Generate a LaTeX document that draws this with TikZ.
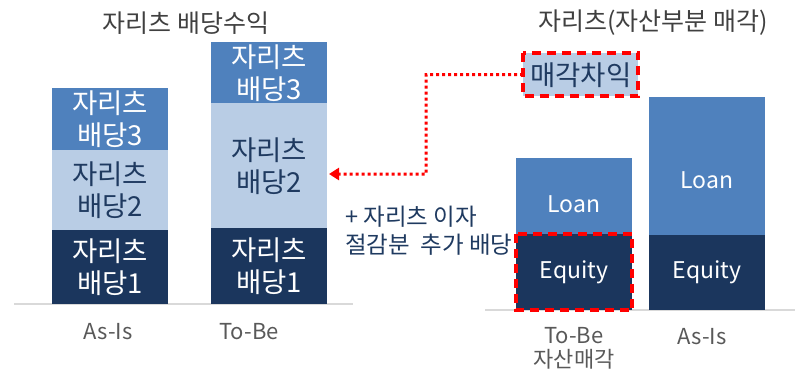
\documentclass[tikz,border=0pt]{standalone}
\usepackage{fontspec}
\setmainfont{Noto Sans CJK KR}
\usetikzlibrary{arrows.meta}
\definecolor{navy}{HTML}{1B365D}
\definecolor{midblue}{HTML}{4F81BD}
\definecolor{lightblue}{HTML}{B9CDE5}
\definecolor{titlegray}{HTML}{404040}
\definecolor{labgray}{HTML}{595959}
\definecolor{axisgray}{HTML}{D9D9D9}
\definecolor{navytext}{HTML}{1F3A60}
\tikzset{
  seg/.style={draw=none, inner sep=0pt, anchor=north west, minimum width=116pt, align=center,
    font=\fontsize{27.5}{32}\selectfont},
  latinseg/.style={font=\fontsize{23}{26}\selectfont},
  darkseg/.style={seg, fill=navy, text=white},
  midseg/.style={seg, fill=midblue, text=white},
  lightseg/.style={seg, fill=lightblue, text=navytext},
  axisline/.style={draw=axisgray, line width=1.5pt},
  charttitle/.style={font=\fontsize{25}{28}\selectfont, text=titlegray, inner sep=0pt},
  catlabel/.style={font=\fontsize{22}{24}\selectfont, text=labgray, inner sep=0pt, align=center},
  reddash/.style={draw=red, line width=4pt, dash pattern=on 9pt off 6pt},
  redarrow/.style={draw=red, line width=3pt, dash pattern=on 3pt off 3pt, -{Triangle[length=10pt,width=12pt]}},
  note/.style={font=\fontsize{23.5}{28}\selectfont, text=navytext, inner sep=0pt, align=left, anchor=north west}
}
\begin{document}
\begin{tikzpicture}[x=1pt,y=-1pt]
\useasboundingbox (0,0) rectangle (795,373);
% left chart
\node[charttitle] (ltitle) at (186,23) {자리츠 배당수익};
\draw[axisline] (14,304) -- (353,304);
\node[darkseg, minimum height=74pt] (a1) at (52,230) {자리츠\\배당1};
\node[lightseg, minimum height=80pt] (a2) at (52,150) {자리츠\\배당2};
\node[midseg, minimum height=62pt] (a3) at (52,88) {자리츠\\배당3};
\node[darkseg, minimum height=76pt] (t1) at (211,228) {자리츠\\배당1};
\node[lightseg, minimum height=125pt] (t2) at (211,103) {자리츠\\배당2};
\node[midseg, minimum height=61pt] (t3) at (211,42) {자리츠\\배당3};
\node[catlabel] (lasis) at (108,332) {As-Is};
\node[catlabel] (ltobe) at (249,332) {To-Be};
% right chart
\node[charttitle] (rtitle) at (653,23) {자리츠(자산부분 매각)};
\draw[axisline] (485,310) -- (795,310);
\node[darkseg, latinseg, minimum height=76pt] (re) at (516,234) {Equity};
\node[midseg, latinseg, minimum height=76pt] (rl) at (516,158) {};
\node[latinseg, text=white, inner sep=0pt] (rltext) at (574,204) {Loan};
\node[darkseg, latinseg, minimum height=75pt] (ae) at (649,235) {Equity};
\node[midseg, latinseg, minimum height=138pt] (al) at (649,97) {};
\node[latinseg, text=white, inner sep=0pt] (altext) at (707,180) {Loan};
\draw[reddash] (re.north west) rectangle (re.south east);
\node[lightseg, minimum width=115pt, minimum height=43pt, font=\fontsize{27.5}{30}\selectfont] (gain) at (523,53) {매각차익};
\draw[reddash] (gain.north west) rectangle (gain.south east);
\node[catlabel] (rtobe) at (574,348) {To-Be\\자산매각};
\node[catlabel] (rasis) at (702,337) {As-Is};
% connector
\coordinate (tip) at (329,174);
\draw[redarrow] (gain.west) -- (426,74.5) -- (426,174) -- (tip);
\node[note] (gainnote) at (345,206) {+ 자리츠 이자\\절감분\ \ 추가 배당};
\end{tikzpicture}
\end{document}
